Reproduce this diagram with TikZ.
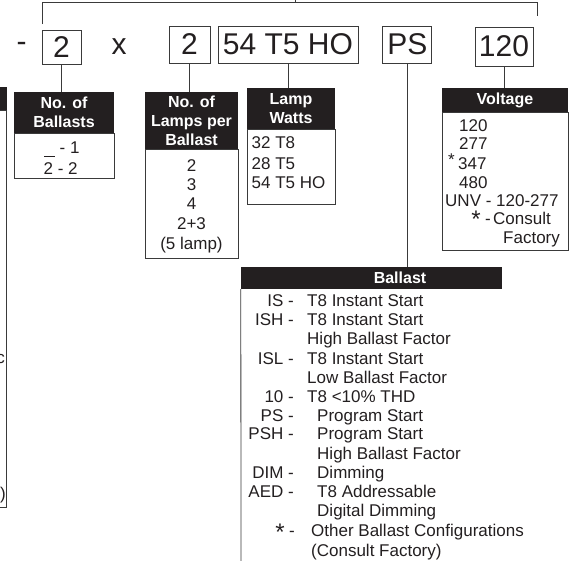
\documentclass[tikz,border=0pt]{standalone}
\usepackage{fontspec}
\setmainfont{Liberation Sans}
\definecolor{hc}{HTML}{231F20}
\definecolor{lc}{HTML}{3A3A3A}
\definecolor{tc}{HTML}{231F20}
\begin{document}
\begin{tikzpicture}[x=1pt,y=-1pt,
  ln/.style={draw=lc, line width=0.8pt},
  topbox/.style={draw=lc, line width=0.9pt, inner sep=0pt, text=tc, font=\fontsize{30}{30}\selectfont},
  hdr/.style={fill=hc, text=white, inner sep=0pt, align=center, font=\bfseries\fontsize{16}{19}\selectfont},
  bodybox/.style={draw=lc, line width=0.8pt, inner sep=0pt},
  txt/.style={text=tc, inner sep=0pt, font=\fontsize{17}{19}\selectfont},
  bigtxt/.style={text=tc, inner sep=0pt, font=\fontsize{30}{30}\selectfont},
  startxt/.style={text=tc, inner sep=0pt, font=\fontsize{24}{24}\selectfont}
]
\useasboundingbox (0,0) rectangle (576,560);
\clip (0,0) rectangle (576,560);

% top bracket
\coordinate (bkL) at (42,24);
\coordinate (bkLt) at (42,2.5);
\coordinate (bkRt) at (537,2.5);
\coordinate (bkR) at (537,16);
\coordinate (stemB) at (295,2.5);
\coordinate (stemT) at (295,-1);
\draw[ln] (bkL) -- (bkLt) -- (bkRt) -- (bkR);
\draw[ln] (stemB) -- (stemT);

% top code boxes
\node[bigtxt, anchor=base] (dash) at (21.5,51.3) {-};
\node[topbox, minimum width=39pt, minimum height=34pt] (b1) at (61.5,47) {2};
\node[bigtxt, anchor=base] (times) at (119,54) {x};
\node[topbox, minimum width=41pt, minimum height=37pt] (b2) at (189.5,44.5) {2};
\node[topbox, minimum width=140pt, minimum height=37pt] (b3) at (288,44.5) {54 T5 HO};
\node[topbox, minimum width=49pt, minimum height=37pt] (b4) at (407.3,44.5) {PS};
\node[topbox, minimum width=58pt, minimum height=39pt] (b5) at (504,46.5) {120};

% left partial box
\node[bodybox, minimum width=30pt, minimum height=397pt, anchor=north east] (lb) at (7,110) {};
\node[hdr, minimum width=30pt, minimum height=23pt, anchor=south east] (lh) at (7,110) {};
\node[txt, anchor=base east] (lc1) at (5,363) {c};
\node[txt, anchor=base east] (lc2) at (6,499) {)};

% headers
\node[hdr, minimum width=100pt, minimum height=41pt] (h1) at (64,112.5) {No. of\\Ballasts};
\node[hdr, minimum width=93pt, minimum height=57pt] (h2) at (191.5,120.5) {No. of\\Lamps per\\Ballast};
\node[hdr, minimum width=88pt, minimum height=41pt] (h3) at (291,108.5) {Lamp\\Watts};
\node[hdr, minimum width=126pt, minimum height=24pt] (h4) at (505,100) {Voltage};
\node[hdr, minimum width=261pt, minimum height=22pt] (h5) at (371.5,278) {};
\node[hdr, anchor=center] (h5t) at (400,278) {Ballast};

% body boxes
\node[bodybox, minimum width=100pt, minimum height=45pt, anchor=north] (bb1) at (h1.south) {};
\node[bodybox, minimum width=93pt, minimum height=109pt, anchor=north] (bb2) at (h2.south) {};
\node[bodybox, minimum width=88pt, minimum height=75pt, anchor=north] (bb3) at (h3.south) {};
\node[bodybox, minimum width=126pt, minimum height=138pt, anchor=north] (bb4) at (h4.south) {};
\coordinate (bb5b) at (241,562);
\draw[ln] (h5.south west) -- (bb5b);

% connectors
\draw[ln] (b1.south) -- (b1.south |- h1.north);
\draw[ln] (b2.south) -- (b2.south |- h2.north);
\draw[ln] (b3.south) -- (b3.south |- h3.north);
\draw[ln] (b4.south) -- (b4.south |- h5.north);
\draw[ln] (b5.south) -- (b5.south |- h4.north);

% No. of Ballasts
\coordinate (ulA) at (44,156.5);
\coordinate (ulB) at (55,156.5);
\draw[draw=tc, line width=1pt] (ulA) -- (ulB);
\node[txt, anchor=base west] (nb1) at (59.5,153) {- 1};
\node[txt, anchor=base west] (nb2) at (43.5,174) {2 - 2};

% Lamps per ballast
\node[txt, anchor=base] (lp1) at (191.5,171) {2};
\node[txt, anchor=base] (lp2) at (191.5,190) {3};
\node[txt, anchor=base] (lp3) at (191.5,209) {4};
\node[txt, anchor=base] (lp4) at (191.5,229) {2+3};
\node[txt, anchor=base] (lp5) at (191.5,249) {(5 lamp)};

% Lamp watts
\node[txt, anchor=base west] (lw1) at (251.5,148) {32 T8};
\node[txt, anchor=base west] (lw2) at (251.5,169) {28 T5};
\node[txt, anchor=base west] (lw3) at (251.5,188) {54 T5 HO};

% Voltage
\node[txt, anchor=base west] (v1) at (459,131) {120};
\node[txt, anchor=base west] (v2) at (459,149) {277};
\node[txt, anchor=base east] (v3s) at (455,165) {*};
\node[txt, anchor=base west] (v3) at (458,169) {347};
\node[txt, anchor=base west] (v4) at (459,188) {480};
\node[txt, anchor=base west] (v5) at (445,206) {UNV - 120-277};
\node[startxt, anchor=base] (v6s) at (476,227) {*};
\node[txt, anchor=base west] (v6d) at (485,224) {-};
\node[txt, anchor=base west] (v6) at (493,224) {Consult};
\node[txt, anchor=base west] (v7) at (503,243) {Factory};

% Ballast list
\node[txt, anchor=base east] (c1) at (294,306) {IS -};
\node[txt, anchor=base west] (d1) at (307,306) {T8 Instant Start};
\node[txt, anchor=base east] (c2) at (294,325) {ISH -};
\node[txt, anchor=base west] (d2) at (307,325) {T8 Instant Start};
\node[txt, anchor=base west] (d2b) at (307,344) {High Ballast Factor};
\node[txt, anchor=base east] (c3) at (294,364) {ISL -};
\node[txt, anchor=base west] (d3) at (307,364) {T8 Instant Start};
\node[txt, anchor=base west] (d3b) at (307,383) {Low Ballast Factor};
\node[txt, anchor=base east] (c4) at (294,402) {10 -};
\node[txt, anchor=base west] (d4) at (307,402) {T8 <10\% THD};
\node[txt, anchor=base east] (c5) at (294,421) {PS -};
\node[txt, anchor=base west] (d5) at (317,421) {Program Start};
\node[txt, anchor=base east] (c6) at (294,439) {PSH -};
\node[txt, anchor=base west] (d6) at (317,439) {Program Start};
\node[txt, anchor=base west] (d6b) at (317,459) {High Ballast Factor};
\node[txt, anchor=base east] (c7) at (294,478) {DIM -};
\node[txt, anchor=base west] (d7) at (317,478) {Dimming};
\node[txt, anchor=base east] (c8) at (294,497) {AED -};
\node[txt, anchor=base west] (d8) at (317,497) {T8 Addressable};
\node[txt, anchor=base west] (d8b) at (317,516) {Digital Dimming};
\node[startxt, anchor=base] (c9s) at (280,540) {*};
\node[txt, anchor=base east] (c9) at (295,536) {-};
\node[txt, anchor=base west] (d9) at (311,536) {Other Ballast Configurations};
\node[txt, anchor=base west] (d9b) at (311,556) {(Consult Factory)};
\end{tikzpicture}
\end{document}
